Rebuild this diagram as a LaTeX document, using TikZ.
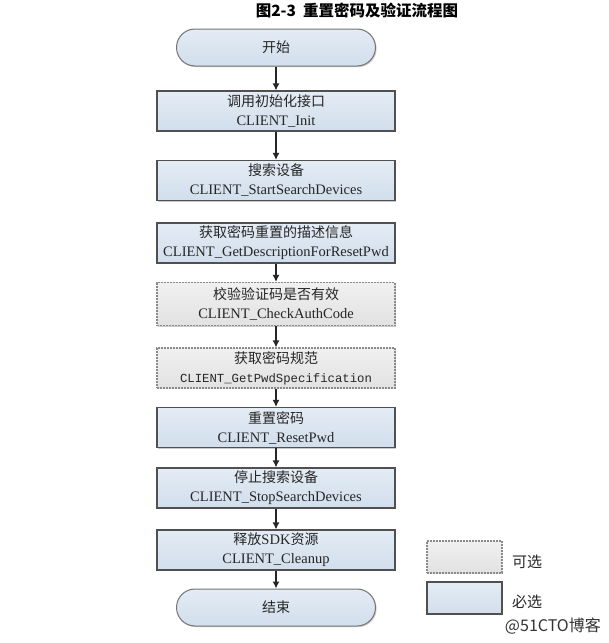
\documentclass[tikz,border=0pt]{standalone}
\usepackage{fontspec}
\setmainfont{Liberation Serif}
\setmonofont{Liberation Mono}
\newfontfamily\cjk{Noto Sans CJK SC}
\usetikzlibrary{arrows.meta,shadows}
\definecolor{txt}{HTML}{262626}
\definecolor{edge}{HTML}{505050}
\definecolor{blueA}{HTML}{E4ECF5}
\definecolor{blueB}{HTML}{D1DEEC}
\definecolor{greyA}{HTML}{F0F0F0}
\definecolor{greyB}{HTML}{E2E2E2}
\definecolor{dashcol}{HTML}{8A8A8A}
\tikzset{
  basebox/.style={minimum width=238pt, minimum height=40pt, inner sep=0pt, align=center,
    text=txt, font=\fontsize{14.5}{19}\selectfont,
    drop shadow={shadow xshift=1.2pt, shadow yshift=-1.2pt, opacity=0.35, fill=black!60}},
  reqbox/.style={basebox, draw=edge, line width=1.2pt, top color=blueA, bottom color=blueB},
  optbox/.style={basebox, draw=dashcol, line width=1.2pt, dash pattern=on 2pt off 1pt,
    top color=greyA, bottom color=greyB},
  pill/.style={minimum width=199pt, minimum height=37pt, inner sep=0pt, rounded corners=18.5pt,
    draw=edge!80, line width=1pt, top color=blueA, bottom color=blueB, text=txt,
    font=\fontsize{14}{17}\selectfont\cjk,
    drop shadow={shadow xshift=1.2pt, shadow yshift=-1.2pt, opacity=0.3, fill=black!60}},
  arr/.style={-{Latex[length=7pt,width=7pt]}, line width=1.2pt, black!85},
  legreq/.style={minimum width=75pt, minimum height=32pt, inner sep=0pt, draw=edge,
    line width=1.2pt, top color=blueA, bottom color=blueB},
  legopt/.style={minimum width=75pt, minimum height=32pt, inner sep=0pt, draw=dashcol,
    line width=1.2pt, dash pattern=on 2pt off 1pt, top color=greyA, bottom color=greyB},
  legtxt/.style={anchor=west, inner sep=0pt, text=txt, font=\fontsize{15}{18}\selectfont\cjk}
}
\newcommand{\zh}[1]{{\fontsize{14}{19}\selectfont\cjk #1}}
\begin{document}
\begin{tikzpicture}[x=1pt,y=-1pt]
\useasboundingbox (0,0) rectangle (609,643);
\node[inner sep=0pt, text=black, font=\fontsize{15.5}{18}\selectfont\cjk\bfseries] (title) at (357,10) {图2-3\ \ 重置密码及验证流程图};
\node[pill] (start) at (276,47.5) {开始};
\node[reqbox] (b1) at (276,111) {\zh{调用初始化接口}\\CLIENT\_Init};
\node[reqbox] (b2) at (276,180.5) {\zh{搜索设备}\\CLIENT\_StartSearchDevices};
\node[reqbox] (b3) at (276,243) {\zh{获取密码重置的描述信息}\\CLIENT\_GetDescriptionForResetPwd};
\node[optbox, minimum height=43pt] (b4) at (276,304) {\zh{校验验证码是否有效}\\CLIENT\_CheckAuthCode};
\node[optbox] (b5) at (276,368) {\zh{获取密码规范}\\{\fontsize{12.3}{15}\selectfont\ttfamily CLIENT\_GetPwdSpecification}};
\node[reqbox] (b6) at (276,427.5) {\zh{重置密码}\\CLIENT\_ResetPwd};
\node[reqbox] (b7) at (276,488) {\zh{停止搜索设备}\\CLIENT\_StopSearchDevices};
\node[reqbox] (b8) at (276,550) {\zh{释放}SDK\zh{资源}\\CLIENT\_Cleanup};
\node[pill] (end) at (276,607.5) {结束};
\draw[arr] (start) -- (b1);
\draw[arr] (b1) -- (b2);
\draw[arr] (b3) -- (b4);
\draw[arr] (b4) -- (b5);
\draw[arr] (b5) -- (b6);
\draw[arr] (b6) -- (b7);
\draw[arr] (b7) -- (b8);
\draw[arr] (b8) -- (end);
\node[legopt] (lopt) at (464.5,557) {};
\node[legreq] (lreq) at (464.5,598) {};
\node[legtxt] (topt) at (512,562) {可选};
\node[legtxt] (treq) at (512,602) {必选};
\node[anchor=east, inner sep=0pt, text=black!80, font=\fontsize{16}{19}\selectfont\cjk] (wm) at (601,626) {@51CTO博客};
\end{tikzpicture}
\end{document}
